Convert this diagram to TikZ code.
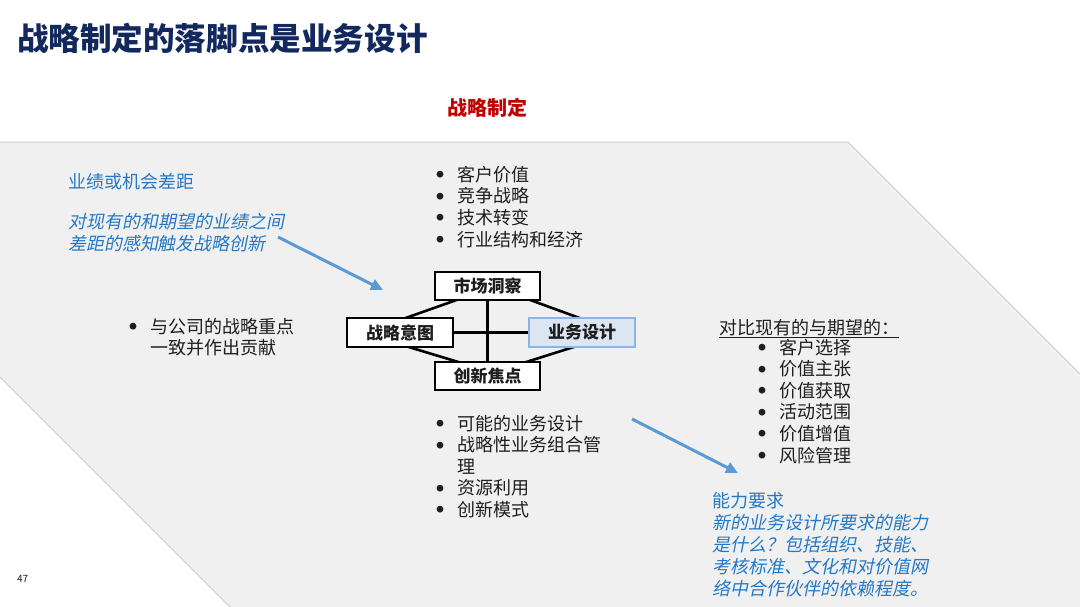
\documentclass[tikz,border=0pt]{standalone}
\usepackage{fontspec}
\setmainfont{Noto Sans CJK SC}
\newfontfamily\itcjk[FakeSlant=0.2]{Noto Sans CJK SC}
\usetikzlibrary{arrows.meta}
\definecolor{navy}{HTML}{13295E}
\definecolor{redt}{HTML}{C00000}
\definecolor{bluet}{HTML}{2479C6}
\definecolor{arrowc}{HTML}{5B9BD5}
\definecolor{bggray}{HTML}{F0F0F0}
\definecolor{edgegray}{HTML}{CCCCCC}
\definecolor{bdfill}{HTML}{DCE6F2}
\definecolor{bdedge}{HTML}{8EB4E3}
\definecolor{txt}{HTML}{1E1E1E}
\newcommand{\bitem}{\makebox[21pt][l]{\makebox[8pt][c]{\raisebox{3.6pt}{\fontsize{7.5}{7.5}\selectfont ●}}}}
\newcommand{\bnone}{\hspace*{21pt}}
\begin{document}
\begin{tikzpicture}[x=1pt,y=-1pt,
  plain/.style={inner sep=0pt, outer sep=0pt, anchor=base west, text=txt, font=\fontsize{18}{21.5}\selectfont},
  bluetext/.style={plain, text=bluet},
  blueit/.style={plain, text=bluet, font=\fontsize{18}{22}\selectfont\itcjk},
  fbox/.style={draw=black, line width=2pt, fill=white, minimum width=105pt, minimum height=28pt, inner sep=0pt, font=\fontsize{17}{17}\selectfont\bfseries, text=txt},
  link/.style={line width=2.6pt, black},
  barrow/.style={line width=3pt, arrowc, -{Triangle[length=12pt,width=11pt]}}
]
\path[use as bounding box] (0,0) rectangle (1080,606);
\fill[white] (0,0) rectangle (1080,606);
% grey band
\filldraw[fill=bggray, draw=edgegray, line width=1pt] (-3,142) -- (848,142) -- (1083,377) -- (1083,609) -- (232,609) -- (-3,374) -- cycle;

% title
\node[plain, text=navy, font=\fontsize{31.6}{31.6}\selectfont\bfseries] (title) at (17,50) {战略制定的落脚点是业务设计};
\node[plain, text=redt, font=\fontsize{20}{20}\selectfont\bfseries] (sf) at (447,115.5) {战略制定};
\node[plain, font=\fontsize{10}{10}\selectfont] (pg) at (17,582) {47};

% left blue text
\node[bluetext] (gap) at (68,188) {业绩或机会差距};
\node[blueit] (gapd) at (68,228) {\begin{tabular}[t]{@{}l@{}}对现有的和期望的业绩之间\\差距的感知触发战略创新\end{tabular}};

% left bullet
\node[plain] (lb) at (129,333) {\begin{tabular}[t]{@{}l@{}}\bitem 与公司的战略重点\\\bnone 一致并作出贡献\end{tabular}};

% top list
\node[plain] (tl) at (436,181) {\begin{tabular}[t]{@{}l@{}}\bitem 客户价值\\\bitem 竞争战略\\\bitem 技术转变\\\bitem 行业结构和经济\end{tabular}};

% bottom list
\node[plain] (bl) at (436,430) {\begin{tabular}[t]{@{}l@{}}\bitem 可能的业务设计\\\bitem 战略性业务组合管\\\bnone 理\\\bitem 资源利用\\\bitem 创新模式\end{tabular}};

% right list
\node[plain] (rh) at (719,334) {\underline{对比现有的与期望的：}};
\node[plain] (rl) at (758,354) {\begin{tabular}[t]{@{}l@{}}\bitem 客户选择\\\bitem 价值主张\\\bitem 价值获取\\\bitem 活动范围\\\bitem 价值增值\\\bitem 风险管理\end{tabular}};

% capability
\node[bluetext] (cap) at (712,507) {能力要求};
\node[blueit] (capd) at (712,529) {\begin{tabular}[t]{@{}l@{}}新的业务设计所要求的能力\\是什么？包括组织、技能、\\考核标准、文化和对价值网\\络中合作伙伴的依赖程度。\end{tabular}};

% central diagram
\coordinate (mic) at (487.5,286);
\coordinate (sic) at (400,332.5);
\coordinate (bdc) at (582,332.5);
\coordinate (infc) at (487.5,376);
\draw[link] (mic) -- (infc);
\draw[link] (sic) -- (bdc);
\draw[link] (465,297) -- (400,320);
\draw[link] (522,297) -- (585,320);
\draw[link] (402,345) -- (465,364);
\draw[link] (580,345) -- (520,364);
\node[fbox] (mi) at (mic) {市场洞察};
\node[fbox, minimum width=106pt, minimum height=29pt] (si) at (sic) {战略意图};
\node[fbox, minimum width=106pt, minimum height=29pt, fill=bdfill, draw=bdedge, line width=1.6pt] (bd) at (bdc) {业务设计};
\node[fbox] (inf) at (infc) {创新焦点};

% arrows
\coordinate (a1s) at (278,237);
\coordinate (a1e) at (383,290);
\coordinate (a2s) at (632,419);
\coordinate (a2e) at (738,473);
\draw[barrow] (a1s) -- (a1e);
\draw[barrow] (a2s) -- (a2e);
\end{tikzpicture}
\end{document}
